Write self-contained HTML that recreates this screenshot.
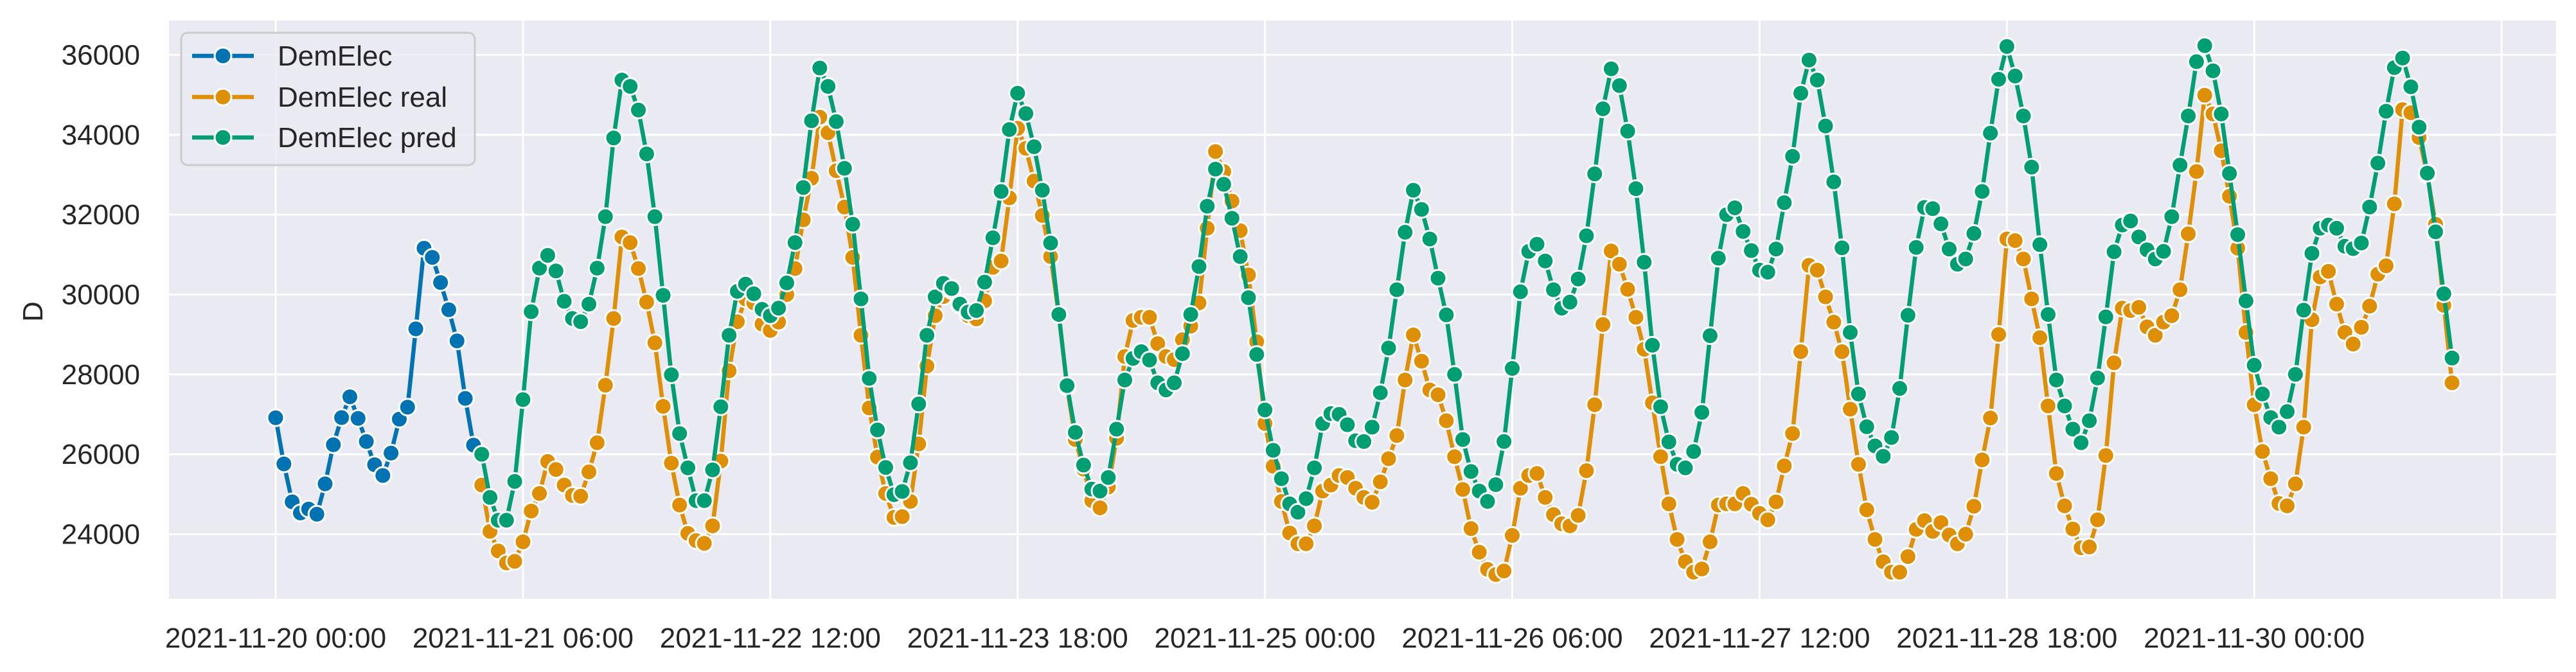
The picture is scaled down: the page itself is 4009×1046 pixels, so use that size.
<!DOCTYPE html>
<html><head><meta charset="utf-8"><style>
html,body{margin:0;padding:0;background:#fff;}
svg{display:block;font-family:"Liberation Sans",Arial,sans-serif;}
</style></head><body>
<svg id="chart" width="4009" height="1046" viewBox="0 0 4009 1046" xmlns="http://www.w3.org/2000/svg">
<rect x="263" y="32" width="3715" height="900" fill="#eaeaf2"/>
<g id="grid"></g>
<g id="series"></g>
<g id="axes"></g>
<text x="0" y="0" transform="translate(66,485) rotate(-90)" text-anchor="middle" font-size="44" fill="#262626">D</text>
<g>
<rect x="282" y="51" width="457" height="206" rx="10" fill="#eaeaf2" fill-opacity="0.8" stroke="#cccccc" stroke-width="3"/>
<g>
<line x1="299" y1="87" x2="395" y2="87" stroke="#0173b2" stroke-width="6.5"/>
<circle cx="347" cy="87" r="13" fill="#0173b2" stroke="#fff" stroke-width="3"/>
<text x="432" y="102" font-size="44" fill="#262626">DemElec</text></g>
<g>
<line x1="299" y1="151" x2="395" y2="151" stroke="#de8f05" stroke-width="6.5"/>
<circle cx="347" cy="151" r="13" fill="#de8f05" stroke="#fff" stroke-width="3"/>
<text x="432" y="166" font-size="44" fill="#262626">DemElec real</text></g>
<g>
<line x1="299" y1="214" x2="395" y2="214" stroke="#029e73" stroke-width="6.5"/>
<circle cx="347" cy="214" r="13" fill="#029e73" stroke="#fff" stroke-width="3"/>
<text x="432" y="229" font-size="44" fill="#262626">DemElec pred</text></g>
</g>
</svg>
<script>
const xTickHours = [0, 30, 60, 90, 120, 150, 180, 210, 240, 270];
const xTickLabels = ["2021-11-20 00:00","2021-11-21 06:00","2021-11-22 12:00","2021-11-23 18:00","2021-11-25 00:00","2021-11-26 06:00","2021-11-27 12:00","2021-11-28 18:00","2021-11-30 00:00",""];
const yTicks = [24000, 26000, 28000, 30000, 32000, 34000, 36000];
const blueStart = 0;
const blueValues = [26916,25760,24810,24530,24630,24500,25260,26240,26920,27440,26900,26320,25740,25470,26030,26880,27180,29140,31160,30930,30300,29620,28840,27400,26230];
const predStart = 25;
const predValues = [26000,24920,24350,24350,25320,27370,29570,30660,30980,30590,29830,29400,29320,29760,30660,31950,33920,35370,35210,34620,33520,31950,29980,27990,26520,25660,24840,24840,25610,27190,28980,30080,30260,30020,29630,29470,29660,30290,31300,32680,34350,35670,35210,34330,33160,31760,29890,27900,26610,25670,24990,25070,25790,27260,28980,29940,30280,30150,29760,29560,29600,30310,31420,32580,34130,35040,34530,33700,32610,31290,29500,27720,26550,25730,25130,25080,25420,26630,27860,28400,28570,28360,27790,27610,27790,28520,29500,30700,32210,33140,32760,31910,30950,29920,28500,27110,26100,25390,24760,24550,24890,25660,26770,27020,27000,26740,26340,26320,26680,27540,28660,30120,31560,32610,32130,31390,30410,29490,28000,26370,25570,25080,24820,25240,26320,28150,30070,31080,31260,30840,30120,29660,29810,30390,31470,33020,34650,35650,35230,34090,32650,30810,28730,27190,26310,25750,25660,26070,27050,28970,30910,32000,32170,31580,31100,30610,30560,31140,32300,33460,35040,35870,35370,34220,32820,31170,29050,27510,26690,26210,25950,26420,27650,29480,31180,32180,32150,31770,31140,30760,30890,31530,32580,34040,35390,36210,35470,34470,33190,31250,29500,27860,27210,26630,26290,26840,27910,29440,31070,31740,31840,31440,31120,30890,31080,31950,33240,34470,35830,36230,35600,34520,33030,31500,29840,28230,27510,26920,26680,27070,28000,29610,31030,31660,31740,31660,31210,31150,31290,32190,33290,34590,35680,35920,35200,34190,33040,31570,30020,28410];
const realStart = 25;
const realValues = [25230,24070,23580,23280,23320,23810,24580,25020,25820,25620,25230,24970,24950,25560,26290,27730,29400,31440,31300,30650,29810,28790,27200,25780,24730,24020,23840,23770,24210,25830,28090,29320,29890,29790,29260,29100,29310,30000,30650,31870,32910,34440,34050,33100,32190,30930,28980,27160,25930,25020,24420,24440,24820,26260,28210,29470,29950,30100,29730,29470,29390,29840,30680,30840,32420,34160,33660,32840,31980,30950,29500,27680,26370,25630,24840,24660,25180,26400,28450,29350,29430,29430,28770,28450,28370,28870,29210,29790,31660,33580,33080,32340,31600,30490,28820,26770,25700,24820,24030,23760,23760,24210,25080,25230,25470,25420,25150,24920,24800,25310,25890,26470,27860,28990,28330,27610,27490,26840,25940,25120,24140,23550,23120,22990,23080,23970,25150,25470,25520,24920,24490,24260,24210,24470,25590,27240,29250,31090,30760,30130,29430,28630,27290,25940,24760,23870,23310,23050,23130,23810,24730,24760,24760,25020,24750,24520,24360,24810,25710,26520,28570,30730,30610,29940,29310,28570,27130,25750,24610,23870,23310,23050,23050,23440,24120,24340,24070,24290,23980,23760,24000,24700,25860,26910,29000,31390,31350,30890,29890,28920,27210,25520,24710,24130,23660,23680,24360,25970,28290,29660,29600,29680,29190,28980,29310,29470,30120,31520,33080,34990,34520,33600,32460,31160,29050,27240,26070,25390,24770,24710,25260,26680,29370,30440,30580,29760,29050,28760,29180,29710,30510,30720,32270,34630,34550,33930,33000,31760,29730,27790];

const NS = "http://www.w3.org/2000/svg";
const PL = 263, PR = 3978, PT = 32, PB = 932;
function xScale(h){ return 429 + h * 12.83; }
function yScale(v){ return 831.5 - (v - 24000) * (746.1 / 12000); }
function mk(tag, attrs, parent){ const e = document.createElementNS(NS, tag); for (const k in attrs) e.setAttribute(k, attrs[k]); parent.appendChild(e); return e; }

const grid = document.getElementById('grid');
const axes = document.getElementById('axes');
yTicks.forEach(v => {
  const y = yScale(v);
  const gl = mk('line', {x1: PL, x2: PR, y1: y, y2: y, stroke: '#fff', 'stroke-width': 3}, grid);
  
  
  const t = mk('text', {x: 218, y: y + 15, 'text-anchor': 'end', 'font-size': 44, fill: '#262626'}, axes);
  t.textContent = String(v);
  
  
});
xTickHours.forEach((h, i) => {
  const x = xScale(h);
  const gl = mk('line', {x1: x, x2: x, y1: PT, y2: PB, stroke: '#fff', 'stroke-width': 3}, grid);
  
  
  if (xTickLabels[i]) {
    const t = mk('text', {x: x, y: 1008, 'text-anchor': 'middle', 'font-size': 44, fill: '#262626'}, axes);
    t.textContent = xTickLabels[i];
    
    
  }
});

const seriesG = document.getElementById('series');
function drawSeries(vals, start, color, name){
  const g = mk('g', {}, seriesG);
  
  
  const pts = vals.map((v, i) => xScale(start + i).toFixed(1) + ',' + yScale(v).toFixed(1)).join(' ');
  const line = mk('polyline', {points: pts, fill: 'none', stroke: color, 'stroke-width': 6.5, 'stroke-linejoin': 'round'}, g);
  
  
  vals.forEach((v, i) => {
    const c = mk('circle', {cx: xScale(start + i), cy: yScale(v), r: 13, fill: color, stroke: '#fff', 'stroke-width': 3}, g);
    
    
  });
}
drawSeries(blueValues, blueStart, '#0173b2', 'demelec');
drawSeries(realValues, realStart, '#de8f05', 'demelec-real');
drawSeries(predValues, predStart, '#029e73', 'demelec-pred');
</script>
</body></html>
